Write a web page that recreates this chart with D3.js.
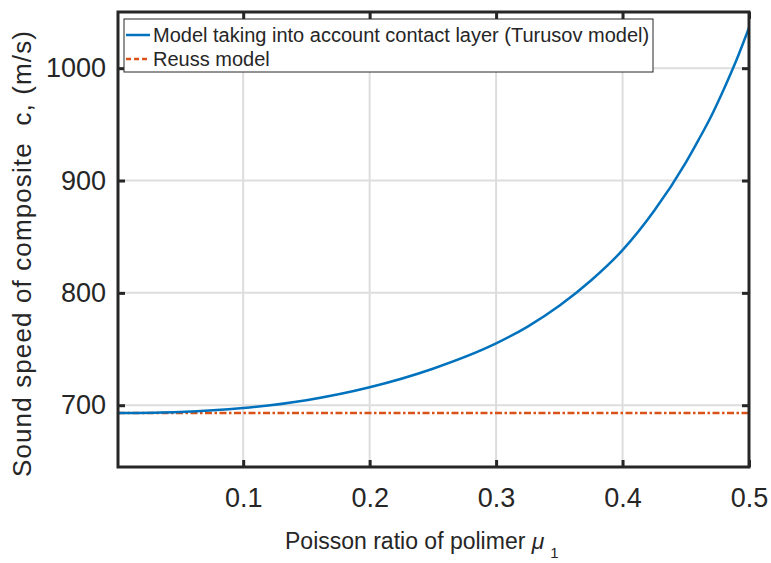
<!DOCTYPE html>
<html>
<head>
<meta charset="utf-8">
<script src="https://cdn.jsdelivr.net/npm/d3@7"></script>
<style>
  body { margin: 0; background: #fff; }
  text { font-family: "Liberation Sans", Arial, sans-serif; fill: #262626; }
</style>
</head>
<body>
<div id="chart"></div>
<script>
// data
const mu = [0.001, 0.05, 0.1, 0.15, 0.2, 0.25, 0.3, 0.325, 0.35, 0.375, 0.4, 0.425, 0.45, 0.46, 0.47, 0.48, 0.49, 0.5];
const turusov = [693, 694, 697.5, 704.5, 716, 732.5, 755, 770, 788.5, 811, 838, 873, 916, 936, 957, 981, 1007, 1036];
const reussMu = [0.001, 0.5];
const reuss = [693, 693];
const xTicks = [0.1, 0.2, 0.3, 0.4, 0.5];
const yTicks = [700, 800, 900, 1000];
const seriesNames = ["Model taking into account contact layer (Turusov model)", "Reuss model"];

const fullWidth = 771, fullHeight = 563;
const margin = { top: 12, right: 22, bottom: 96, left: 118 };
const width = fullWidth - margin.left - margin.right;
const height = fullHeight - margin.top - margin.bottom;

const svg = d3.select("#chart").append("svg")
  .attr("width", fullWidth).attr("height", fullHeight);
const g = svg.append("g").attr("transform", `translate(${margin.left},${margin.top})`);

const x = d3.scaleLinear().domain([0.001, 0.5]).range([0, width]);
const y = d3.scaleLinear().domain([645, 1050]).range([height, 0]);

// grid
g.append("g").selectAll("line").data(xTicks).join("line")
  .attr("x1", d => x(d)).attr("x2", d => x(d)).attr("y1", 0).attr("y2", height)
  .attr("stroke", "#dddddd").attr("stroke-width", 2);
g.append("g").selectAll("line").data(yTicks).join("line")
  .attr("y1", d => y(d)).attr("y2", d => y(d)).attr("x1", 0).attr("x2", width)
  .attr("stroke", "#dddddd").attr("stroke-width", 2);

// lines
const line = d3.line().curve(d3.curveMonotoneX).x(d => x(d[0])).y(d => y(d[1]));
g.append("path").datum(d3.zip(reussMu, reuss))
  .attr("fill", "none").attr("stroke", "#D95319").attr("stroke-width", 2.5)
  .attr("stroke-dasharray", "7,2.5,2.5,2.5").attr("d", line);
g.append("path").datum(d3.zip(mu, turusov))
  .attr("fill", "none").attr("stroke", "#0072BD").attr("stroke-width", 2.5)
  .attr("d", line);

// axes (ticks inward, mirrored)
const axB = g.append("g").attr("transform", `translate(0,${height})`)
  .call(d3.axisBottom(x).tickValues(xTicks).tickSize(-7).tickPadding(21).tickFormat(d3.format(".1f")));
const axT = g.append("g").call(d3.axisTop(x).tickValues(xTicks).tickSize(-7).tickFormat(""));
const axL = g.append("g").call(d3.axisLeft(y).tickValues(yTicks).tickSize(-7).tickPadding(12).tickFormat(d3.format("d")));
const axR = g.append("g").attr("transform", `translate(${width},0)`)
  .call(d3.axisRight(y).tickValues(yTicks).tickSize(-7).tickFormat(""));
[axB, axT, axL, axR].forEach(a => {
  a.select(".domain").remove();
  a.selectAll("line").attr("stroke", "#262626").attr("stroke-width", 3);
  a.selectAll("text").style("font-size", "27px").attr("fill", "#262626");
});
g.append("rect").attr("width", width).attr("height", height)
  .attr("fill", "none").attr("stroke", "#262626").attr("stroke-width", 3);

// axis labels
const xl = svg.append("text").attr("x", 285).attr("y", 549).style("font-size", "23px");
xl.append("tspan").text("Poisson ratio of polimer ");
xl.append("tspan").style("font-style", "italic").text("μ");
xl.append("tspan").attr("dx", 6).attr("dy", 9).style("font-size", "15px").text("1");

svg.append("text").attr("transform", "translate(31,254) rotate(-90)")
  .attr("text-anchor", "middle").style("font-size", "26px").style("white-space", "pre")
  .attr("textLength", 446).attr("lengthAdjust", "spacing")
  .text("Sound speed of composite  c, (m/s)");

// legend
const leg = g.append("g").attr("transform", "translate(6,7)");
leg.append("rect").attr("width", 529).attr("height", 53)
  .attr("fill", "#fff").attr("stroke", "#262626").attr("stroke-width", 1);
const colors = ["#0072BD", "#D95319"];
const dashes = [null, "5,3"];
seriesNames.forEach((name, i) => {
  const row = leg.append("g").attr("transform", `translate(0,${16 + i * 24})`);
  row.append("line").attr("x1", 2).attr("x2", 26).attr("y1", 0).attr("y2", 0)
    .attr("stroke", colors[i]).attr("stroke-width", 2.5).attr("stroke-dasharray", dashes[i]);
  row.append("text").attr("x", 29).attr("y", 7).style("font-size", "20px").text(name);
});
</script>
</body>
</html>
